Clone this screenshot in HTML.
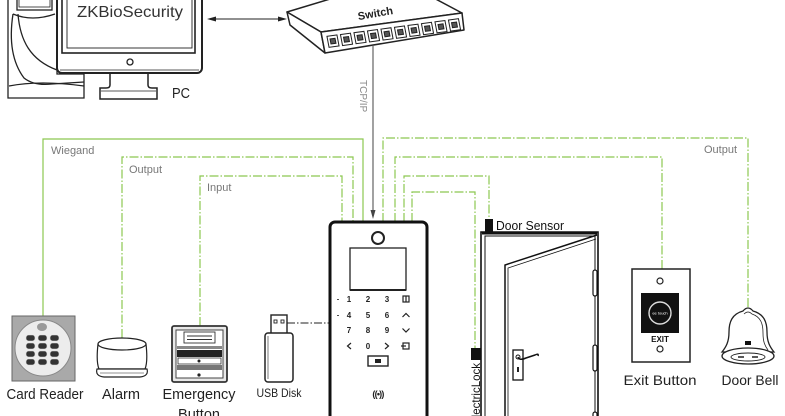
<!DOCTYPE html>
<html><head><meta charset="utf-8"><style>
html,body{margin:0;padding:0;background:#fff;}
svg{display:block;}
</style></head><body>
<svg width="785" height="416" viewBox="0 0 785 416" xmlns="http://www.w3.org/2000/svg" font-family="Liberation Sans, sans-serif">
<rect x="0" y="0" width="785" height="416" fill="#fff"/>

<!-- ===== PC tower ===== -->
<g fill="#fff" stroke="#222" stroke-width="1.3">
  <path d="M8,-2 V98 H84 V74 H57 V-2 Z"/>
  <path d="M13,14 C9,40 12,62 24,78 Q34,86 52,84 L84,82" fill="none"/>
  <path d="M18,14 C20,40 30,60 57,70" fill="none"/>
  <path d="M9,86 Q40,80 84,86" fill="none"/>
  <path d="M13,14 Q32,22 55,14" fill="none"/>
  <rect x="17" y="-2" width="35" height="12"/>
  <rect x="19" y="-2" width="31" height="9" fill="none" stroke-width="0.8"/>
</g>

<!-- ===== Monitor ===== -->
<g stroke="#222" fill="#fff">
  <path d="M110,72 L110,85 Q110,88 106,88 L100,88 L100,99 L157,99 L157,88 L152,88 Q148,88 148,85 L148,72" stroke-width="1.5"/>
  <line x1="101" y1="91" x2="156" y2="91" stroke-width="0.8"/>
  <rect x="57" y="-8" width="145" height="81" rx="5" stroke-width="2"/>
  <line x1="60" y1="70" x2="199" y2="70" stroke-width="0.8"/>
  <rect x="62" y="-8" width="133" height="61" fill="none" stroke-width="1.6"/>
  <rect x="67" y="-8" width="125" height="56" fill="none" stroke-width="0.9"/>
  <circle cx="130" cy="62" r="3" fill="none" stroke-width="1.3"/>
</g>
<text x="130" y="17" font-size="16" fill="#333" text-anchor="middle" textLength="106" lengthAdjust="spacingAndGlyphs">ZKBioSecurity</text>
<text x="172" y="98" font-size="15" fill="#222" textLength="18" lengthAdjust="spacingAndGlyphs">PC</text>

<!-- PC <-> Switch arrow -->
<line x1="212" y1="19" x2="282" y2="19" stroke="#222" stroke-width="1"/>
<polygon points="207,19 216,16.5 216,21.5" fill="#222"/>
<polygon points="287,19 278,16.5 278,21.5" fill="#222"/>

<!-- ===== Switch ===== -->
<g stroke="#222" stroke-width="1.5" fill="#fff" stroke-linejoin="round">
  <polygon points="287,12 340,-4 430,-4 462,13 321,32"/>
  <polygon points="287,12 321,32 325,53 290,25"/>
  <polygon points="321,32 462,13 464,30 325,53"/>
</g>
<g transform="matrix(1,-0.134,0.19,1,321,32)" stroke="#222" stroke-width="1" fill="#fff">
  <rect x="5" y="5" width="10" height="11"/><rect x="7.5" y="8" width="5" height="5" fill="#555"/>
  <rect x="18.5" y="5" width="10" height="11"/><rect x="21" y="8" width="5" height="5" fill="#555"/>
  <rect x="32" y="5" width="10" height="11"/><rect x="34.5" y="8" width="5" height="5" fill="#555"/>
  <rect x="45.5" y="5" width="10" height="11"/><rect x="48" y="8" width="5" height="5" fill="#555"/>
  <rect x="59" y="5" width="10" height="11"/><rect x="61.5" y="8" width="5" height="5" fill="#555"/>
  <rect x="72.5" y="5" width="10" height="11"/><rect x="75" y="8" width="5" height="5" fill="#555"/>
  <rect x="86" y="5" width="10" height="11"/><rect x="88.5" y="8" width="5" height="5" fill="#555"/>
  <rect x="99.5" y="5" width="10" height="11"/><rect x="102" y="8" width="5" height="5" fill="#555"/>
  <rect x="113" y="5" width="10" height="11"/><rect x="115.5" y="8" width="5" height="5" fill="#555"/>
  <rect x="126.5" y="5" width="10" height="11"/><rect x="129" y="8" width="5" height="5" fill="#555"/>
</g>
<text transform="translate(376,17) rotate(-10)" font-size="11" font-weight="bold" fill="#222" text-anchor="middle">Switch</text>

<!-- TCP/IP arrow -->
<line x1="373" y1="45" x2="373" y2="212" stroke="#555" stroke-width="1.1"/>
<polygon points="373,219 370.5,210 375.5,210" fill="#444"/>
<text transform="translate(360,80) rotate(90)" font-size="10" fill="#888">TCP/IP</text>

<!-- ===== Green wires ===== -->
<g fill="none" stroke="#8cc850" stroke-width="1.2">
  <path d="M43,316 V139 H363 V222"/>
</g>
<g fill="none" stroke="#8cc850" stroke-width="1.2" stroke-dasharray="9 2 1.5 2">
  <path d="M122,338 V157 H353 V222"/>
  <path d="M200,326 V176 H342 V222"/>
  <path d="M383,222 V138 H748 V307"/>
  <path d="M395,222 V157 H662 V269"/>
  <path d="M404,222 V176 H489 V219"/>
  <path d="M412,222 V192 H475 V348"/>
</g>
<g font-size="11" fill="#777">
  <text x="51" y="154">Wiegand</text>
  <text x="129" y="173">Output</text>
  <text x="207" y="191">Input</text>
  <text x="704" y="153">Output</text>
</g>

<!-- USB dashed link -->
<line x1="287" y1="323" x2="329" y2="323" stroke="#222" stroke-width="1" stroke-dasharray="8 2 1.5 2"/>

<!-- ===== Device ===== -->
<rect x="330" y="222" width="97" height="205" rx="5" fill="#fff" stroke="#111" stroke-width="3"/>
<circle cx="378" cy="238" r="6" fill="#fff" stroke="#222" stroke-width="2"/>
<rect x="350" y="248" width="56" height="42" fill="#fff" stroke="#222" stroke-width="1.3"/>
<line x1="350" y1="290" x2="406" y2="290" stroke="#222" stroke-width="2"/>
<g font-size="8" font-weight="bold" fill="#222" text-anchor="middle">
  <text x="349" y="302">1</text><text x="368" y="302">2</text><text x="387" y="302">3</text>
  <text x="349" y="318">4</text><text x="368" y="318">5</text><text x="387" y="318">6</text>
  <text x="349" y="333">7</text><text x="368" y="333">8</text><text x="387" y="333">9</text>
  <text x="368" y="349">0</text>
</g>
<g fill="none" stroke="#222" stroke-width="1.2">
  <rect x="337" y="299" width="2" height="0.8" fill="#222" stroke="none"/>
  <rect x="337" y="315" width="2" height="0.8" fill="#222" stroke="none"/>
  <rect x="403" y="296" width="6" height="6"/><line x1="406" y1="296" x2="406" y2="302"/>
  <path d="M402.5,317 L406,313.5 L409.5,317"/>
  <path d="M402.5,328.5 L406,332 L409.5,328.5"/>
  <path d="M351,343 L347.5,346 L351,349"/>
  <path d="M385,343 L388.5,346 L385,349"/>
  <rect x="403" y="343" width="6" height="6"/><line x1="401" y1="346" x2="406" y2="346"/>
  <rect x="368" y="356" width="20" height="10" stroke-width="1.4"/>
</g>
<rect x="375" y="359" width="6" height="4" fill="#222"/>
<text x="378" y="397" font-size="9" font-weight="bold" fill="#222" text-anchor="middle" letter-spacing="-0.8">((•))</text>

<!-- ===== Door ===== -->
<g fill="none" stroke="#111">
  <path d="M481,420 V232 H598 V420" stroke-width="1.6"/>
  <path d="M485,420 V236 H595 V420" stroke-width="1"/>
  <line x1="482" y1="233.5" x2="597" y2="233.5" stroke-width="2"/>
  <path d="M505,420 V265 L597,235" stroke-width="1.5"/>
  <path d="M508,420 V268 L596,239" stroke-width="0.8"/>
  <rect x="593" y="270" width="4" height="26" rx="2" fill="#fff" stroke-width="1.2"/>
  <rect x="593" y="345" width="4" height="26" rx="2" fill="#fff" stroke-width="1.2"/>
  <rect x="593" y="412" width="4" height="10" rx="2" fill="#fff" stroke-width="1.2"/>
  <rect x="513" y="350" width="10" height="30" stroke-width="1.3"/>
  <path d="M518,357 Q519,361 526,358 L535,355 Q539,353 538,356" stroke-width="1.5"/>
  <circle cx="518" cy="357" r="2" stroke-width="1"/>
  <rect x="517" y="367" width="2" height="5" fill="#222" stroke="none"/>
</g>
<rect x="485" y="219" width="8" height="13" fill="#111"/>
<text x="496" y="230" font-size="13" fill="#111" textLength="68" lengthAdjust="spacingAndGlyphs">Door Sensor</text>
<rect x="471" y="348" width="10" height="12" fill="#111"/>
<text transform="translate(480,363) rotate(-90)" font-size="12" fill="#111" text-anchor="end" textLength="62" lengthAdjust="spacingAndGlyphs">ElectricLock</text>

<!-- ===== Exit button ===== -->
<rect x="632" y="269" width="58" height="93" fill="#fff" stroke="#222" stroke-width="1.5"/>
<circle cx="660" cy="281" r="3" fill="#fff" stroke="#222" stroke-width="1.2"/>
<circle cx="660" cy="349" r="3" fill="#fff" stroke="#222" stroke-width="1.2"/>
<rect x="641" y="293" width="38" height="40" fill="#111"/>
<circle cx="660" cy="313" r="11" fill="none" stroke="#ddd" stroke-width="1.4"/>
<text x="660" y="314.5" font-size="4" fill="#fff" text-anchor="middle">ee touch</text>
<text x="660" y="342" font-size="8" font-weight="bold" fill="#111" text-anchor="middle">EXIT</text>
<text x="660" y="385" font-size="14" fill="#222" text-anchor="middle" textLength="73" lengthAdjust="spacingAndGlyphs">Exit Button</text>

<!-- ===== Door bell ===== -->
<g fill="#fff" stroke="#222" stroke-width="1.3">
  <path d="M743,311 Q748,305 753,311 C764,314 767,322 767,332 C767,342 770,347 774,352 L722,352 C726,347 729,342 729,332 C729,322 732,314 743,311 Z"/>
  <path d="M744,314 Q748,310 752,314 C761,317 763,324 763,333 C763,342 765,346 768,350" fill="none" stroke-width="0.8"/>
  <ellipse cx="748" cy="356" rx="26" ry="8"/>
  <ellipse cx="748" cy="357" rx="17" ry="4" stroke-width="0.9"/>
  <path d="M738,357 h6 M752,357 h6" stroke-width="1.5"/>
</g>
<rect x="745" y="341" width="6" height="4" fill="#111"/>
<text x="750" y="385" font-size="14" fill="#222" text-anchor="middle" textLength="57" lengthAdjust="spacingAndGlyphs">Door Bell</text>

<!-- ===== Card reader ===== -->
<rect x="12" y="316" width="63" height="65" fill="#a9a9a9" stroke="#666" stroke-width="1"/>
<circle cx="43" cy="348" r="28" fill="#ececec" stroke="#888" stroke-width="1"/>
<ellipse cx="42" cy="327" rx="5" ry="4" fill="#999"/>
<g fill="#333" stroke="#ddd" stroke-width="0.6">
  <rect x="26" y="335" width="9" height="6" rx="2.5"/><rect x="38" y="335" width="9" height="6" rx="2.5"/><rect x="50" y="335" width="9" height="6" rx="2.5"/>
  <rect x="26" y="343" width="9" height="6" rx="2.5"/><rect x="38" y="343" width="9" height="6" rx="2.5"/><rect x="50" y="343" width="9" height="6" rx="2.5"/>
  <rect x="26" y="351" width="9" height="6" rx="2.5"/><rect x="38" y="351" width="9" height="6" rx="2.5"/><rect x="50" y="351" width="9" height="6" rx="2.5"/>
  <rect x="26" y="359" width="9" height="6" rx="2.5"/><rect x="38" y="359" width="9" height="6" rx="2.5"/><rect x="50" y="359" width="9" height="6" rx="2.5"/>
</g>
<text x="45" y="399" font-size="15" fill="#222" text-anchor="middle" textLength="77" lengthAdjust="spacingAndGlyphs">Card Reader</text>

<!-- ===== Alarm ===== -->
<g fill="#fff" stroke="#222" stroke-width="1.2">
  <path d="M98,344 Q96,362 99,369 L145,369 Q148,362 146,344"/>
  <ellipse cx="122" cy="344" rx="24" ry="6"/>
  <path d="M97,369 Q95,376 104,377 L140,377 Q149,376 147,369 Z"/>
  <line x1="100" y1="373" x2="144" y2="373" stroke-width="0.6"/>
</g>
<text x="121" y="399" font-size="15" fill="#222" text-anchor="middle" textLength="38" lengthAdjust="spacingAndGlyphs">Alarm</text>

<!-- ===== Emergency button ===== -->
<rect x="172" y="326" width="55" height="56" rx="2" fill="#e8e8e8" stroke="#333" stroke-width="1.8"/>
<rect x="176" y="330" width="47" height="48" fill="#fff" stroke="#444" stroke-width="1"/>
<rect x="184" y="332" width="31" height="11" fill="#fff" stroke="#333" stroke-width="0.9"/>
<line x1="187" y1="336" x2="212" y2="336" stroke="#333" stroke-width="0.9"/>
<line x1="187" y1="339.5" x2="212" y2="339.5" stroke="#333" stroke-width="0.9"/>
<rect x="177" y="346" width="45" height="3" fill="#888"/>
<rect x="177" y="350" width="45" height="7" fill="#222"/>
<rect x="178" y="358" width="43" height="6" fill="#fff" stroke="#333" stroke-width="0.8"/>
<circle cx="199" cy="361" r="1.5" fill="#222"/>
<rect x="177" y="365" width="45" height="5" fill="#777"/>
<circle cx="199" cy="375" r="1.6" fill="#222"/>
<text x="199" y="399" font-size="15" fill="#222" text-anchor="middle" textLength="73" lengthAdjust="spacingAndGlyphs">Emergency</text>
<text x="199" y="419" font-size="15" fill="#222" text-anchor="middle" textLength="42" lengthAdjust="spacingAndGlyphs">Button</text>

<!-- ===== USB disk ===== -->
<rect x="271" y="315" width="16" height="19" fill="#fff" stroke="#222" stroke-width="1.4"/>
<rect x="274" y="320" width="3" height="3" fill="#fff" stroke="#222" stroke-width="0.9"/>
<rect x="281" y="320" width="3" height="3" fill="#fff" stroke="#222" stroke-width="0.9"/>
<rect x="265" y="333" width="28" height="49" rx="3" fill="#fff" stroke="#222" stroke-width="1.5"/>
<line x1="268" y1="336" x2="268" y2="379" stroke="#222" stroke-width="0.6"/>
<text x="279" y="397" font-size="12" fill="#222" text-anchor="middle" textLength="45" lengthAdjust="spacingAndGlyphs">USB Disk</text>
</svg>
</body></html>
